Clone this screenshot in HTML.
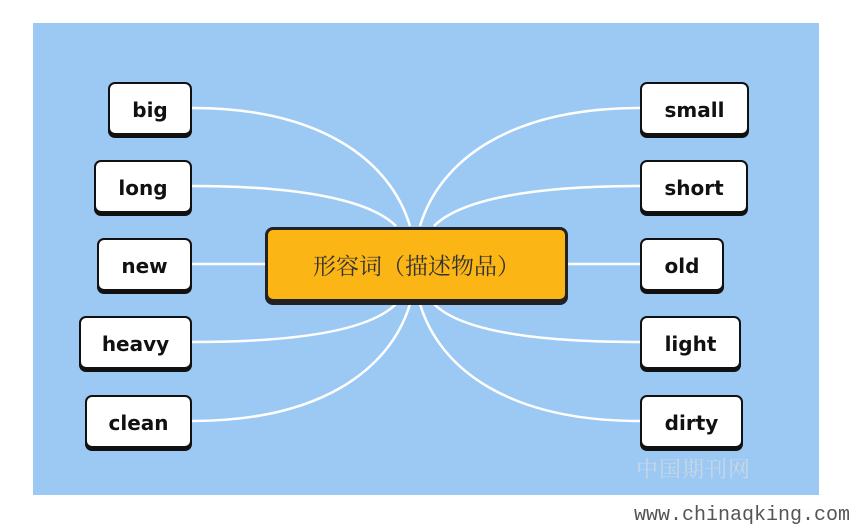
<!DOCTYPE html>
<html><head><meta charset="utf-8"><style>
body{margin:0;width:864px;height:527px;background:#fff;position:relative;overflow:hidden;font-family:"DejaVu Sans","Liberation Sans",sans-serif}
.bg{position:absolute;left:33px;top:23px;width:786px;height:472px;background:#9bc9f4}
.n{position:absolute;box-sizing:border-box;background:#fff;border:2px solid #111;border-radius:7px;box-shadow:0 3px 0 #111;font-weight:bold;font-size:20px;display:flex;align-items:center;justify-content:center;color:#111;padding-top:3px}
.c{position:absolute;left:265px;top:227px;width:303px;height:75px;box-sizing:border-box;background:#fbb515;border:3px solid #222;border-radius:8px;box-shadow:0 3px 0 #222;display:flex;align-items:center;justify-content:center;font-size:23px;color:#333;font-family:"Noto Serif CJK SC","WenQuanYi Zen Hei",serif}
.wm{position:absolute;left:636px;top:453px;font-size:22px;color:#c8d6e4;font-family:"Noto Serif CJK SC",serif;letter-spacing:1px}
.url{position:absolute;left:634px;top:504px;font-size:20px;color:#555;font-family:"Liberation Mono",monospace}
</style></head><body>
<div class="bg"></div>
<svg width="864" height="527" style="position:absolute;left:0;top:0" fill="none" stroke="#fff" stroke-width="2.5">
<path d="M192 108 C320 108 390 160 410 226"/>
<path d="M192 186 C300 186 370 200 396 226"/>
<path d="M192 264 L266 264"/>
<path d="M192 342 C300 342 370 330 396 304"/>
<path d="M192 421 C320 421 390 370 410 304"/>
<path d="M640 108 C510 108 440 160 420 226"/>
<path d="M640 186 C530 186 460 200 434 226"/>
<path d="M640 264 L568 264"/>
<path d="M640 342 C530 342 460 330 434 304"/>
<path d="M640 421 C510 421 440 370 420 304"/>
</svg>
<div class="n" style="left:108px;top:82px;width:84px;height:53px">big</div>
<div class="n" style="left:94px;top:160px;width:98px;height:53px">long</div>
<div class="n" style="left:97px;top:238px;width:95px;height:53px">new</div>
<div class="n" style="left:79px;top:316px;width:113px;height:53px">heavy</div>
<div class="n" style="left:85px;top:395px;width:107px;height:53px">clean</div>
<div class="n" style="left:640px;top:82px;width:109px;height:53px">small</div>
<div class="n" style="left:640px;top:160px;width:108px;height:53px">short</div>
<div class="n" style="left:640px;top:238px;width:84px;height:53px">old</div>
<div class="n" style="left:640px;top:316px;width:101px;height:53px">light</div>
<div class="n" style="left:640px;top:395px;width:103px;height:53px">dirty</div>
<div class="c">形容词（描述物品）</div>
<div class="wm">中国期刊网</div>
<div class="url">www.chinaqking.com</div>
</body></html>
